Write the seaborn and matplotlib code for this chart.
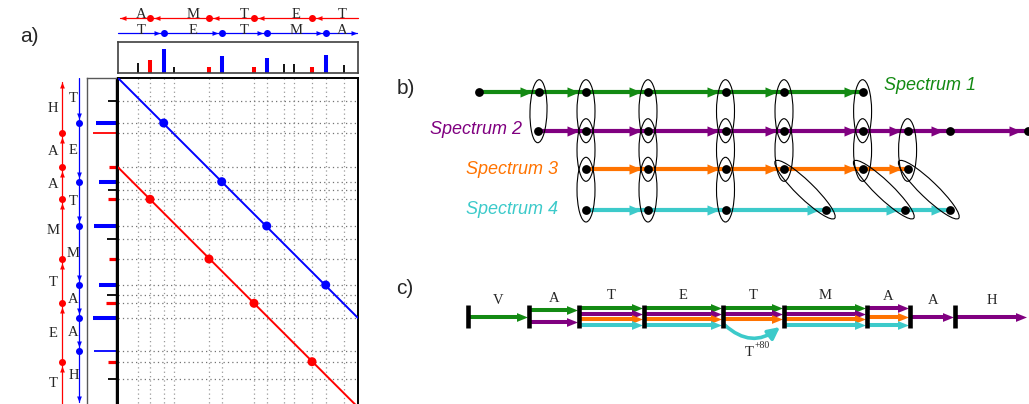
import matplotlib
matplotlib.use('Agg')
import matplotlib.pyplot as plt
from matplotlib.patches import Ellipse
import numpy as np
import pandas as pd
import seaborn as sns

sns.set_theme(style='white')
plt.rcParams['font.family'] = ['Liberation Sans', 'DejaVu Sans']
SERIF = ['Liberation Serif', 'DejaVu Serif']

FIG_W, FIG_H = 1029, 404
RED, BLUE = '#ff0000', '#0000ff'
GREEN, PURPLE, ORANGE, CYAN = '#138a13', '#800080', '#ff7300', '#3ccaca'

# --- a) spectrum on top (mass units, 0..240) ---
top_mz = [19.7, 32, 45.7, 55.7, 91, 103.7, 136, 148.7, 166, 176, 194, 207.7, 226]
top_int = [42, 54, 100, 25, 25, 71, 25, 62, 38, 38, 25, 75, 33]
top_ion = ['o', 'y', 'b', 'o', 'y', 'b', 'y', 'b', 'o', 'o', 'y', 'b', 'o']
top_b_seq = ['T', 'E', 'T', 'M', 'A']
top_y_seq = ['A', 'M', 'T', 'E', 'T']

# --- a) spectrum on the left ---
left_mz = [22.7, 45, 55.3, 89.3, 103.7, 112, 121.3, 148, 161, 181, 207, 217, 225.3, 240, 272.7, 283.7, 301]
left_int = [35, 87, 100, 30, 74, 35, 35, 96, 39, 30, 74, 39, 43, 100, 96, 35, 35]
left_ion = ['o', 'b', 'y', 'y', 'b', 'o', 'y', 'b', 'o', 'y', 'b', 'o', 'y', 'b', 'b', 'y', 'o']
left_faint = [False, False, True, False, False, False, False, False, False, False,
              False, False, False, False, True, False, False]
left_b_seq = ['T', 'E', 'T', 'M', 'A', 'A', 'H']
left_y_seq = ['H', 'A', 'A', 'M', 'T', 'E', 'T']
y_shift = 89.3          # offset of the y-ion diagonal
mass_max = 240

# --- b) peaks of four spectra ---
spectra = ['Spectrum 1', 'Spectrum 2', 'Spectrum 3', 'Spectrum 4']
spec_peaks = [
    [479, 539, 586, 648, 725.5, 784, 862.6],
    [538, 586, 648, 725.5, 784, 862.6, 907.6, 950, 1027.5],
    [586, 648, 725.5, 784, 862.6, 907.6],
    [586, 648, 725.5, 826, 905, 950],
]
# matched peaks between neighbouring spectra: (index in upper, index in lower)
spec_links = [
    [(1, 0), (2, 1), (3, 2), (4, 3), (5, 4), (6, 5)],
    [(1, 0), (2, 1), (3, 2), (4, 3), (5, 4), (6, 5)],
    [(0, 0), (1, 1), (2, 2), (3, 3), (4, 4), (5, 5)],
]

# --- c) consensus sequence ---
c_bounds = [468.4, 528.8, 578.6, 644, 722.7, 784, 866.7, 910.4, 955.3, 1028]
c_letters = ['V', 'A', 'T', 'E', 'T', 'M', 'A', 'A', 'H']
c_cover = [[1], [1, 2], [1, 2, 3, 4], [1, 2, 3, 4], [1, 2, 3, 4], [1, 2, 3, 4],
           [2, 3, 4], [2], [2]]
c_mod = {(4, 4): '+80'}

spec_colors = [GREEN, PURPLE, ORANGE, CYAN]
ion_colors = {'b': BLUE, 'y': RED, 'o': 'black'}
PT = 0.72  # points per pixel


def px_axes(fig, x0, y0, x1, y1):
    return fig.add_axes([x0 / FIG_W, 1 - y1 / FIG_H, (x1 - x0) / FIG_W, (y1 - y0) / FIG_H])


def head(direction, aspect=0.8):
    v = {'r': [(-1, -aspect), (1, 0), (-1, aspect)],
         'l': [(1, -aspect), (-1, 0), (1, aspect)],
         'u': [(-aspect, -1), (0, 1), (aspect, -1)],
         'd': [(-aspect, 1), (0, -1), (aspect, 1)]}[direction]
    return v + [v[0]]


def clean(ax):
    ax.set_xticks([])
    ax.set_yticks([])
    ax.set_xlabel('')
    ax.set_ylabel('')


fig = plt.figure(figsize=(FIG_W / 100, FIG_H / 100), dpi=100)

# ---------------- a) top spectrum ----------------
ax_top = px_axes(fig, 118, 42, 358, 73)
for m, h, ion in zip(top_mz, top_int, top_ion):
    ax_top.vlines(m, 0, h, color=ion_colors[ion], lw=1.3 if ion == 'o' else 2.9)
ax_top.set_xlim(0, mass_max)
ax_top.set_ylim(0, 129)
clean(ax_top)
for s in ax_top.spines.values():
    s.set_color('0.25')
    s.set_linewidth(1.2)

# ---------------- a) left spectrum ----------------
ax_left = px_axes(fig, 87, 78, 116, 412)
for m, h, ion, faint in zip(left_mz, left_int, left_ion, left_faint):
    lw = 1.3 if (ion == 'o' or faint) else (2.9 if ion == 'b' else 2.3)
    ax_left.hlines(m, 0, h, color=ion_colors[ion], lw=lw)
ax_left.set_xlim(126, 0)
ax_left.set_ylim(334, 0)
clean(ax_left)
for s in ax_left.spines.values():
    s.set_color('0.35')
    s.set_linewidth(1.0)
ax_left.spines['right'].set_color('black')

# ---------------- a) matrix ----------------
ax_m = px_axes(fig, 118, 78, 358, 412)
ax_m.vlines(top_mz, 0, 334, colors='0.6', linestyles=(0, (1, 2.5)), lw=0.9, zorder=1)
ax_m.hlines(left_mz, 0, mass_max, colors='0.45', linestyles=(0, (1, 2.5)), lw=0.9, zorder=1)
diag = np.array([0, mass_max])
sns.lineplot(x=diag, y=diag, ax=ax_m, color=BLUE, lw=1.4, zorder=3)
sns.lineplot(x=diag, y=diag + y_shift, ax=ax_m, color=RED, lw=1.4, zorder=3)

top_b = [m for m, i in zip(top_mz, top_ion) if i == 'b']
top_y = [m for m, i in zip(top_mz, top_ion) if i == 'y']
left_b = [m for m, i in zip(left_mz, left_ion) if i == 'b']
left_y = [m for m, i in zip(left_mz, left_ion) if i == 'y']
match = []
for m in top_b:
    for n in left_b:
        if abs(n - m) < 3:
            match.append((m, n, 'b'))
for m in top_y:
    for n in left_y:
        if abs(n - m - y_shift) < 3:
            match.append((m, n, 'y'))
dm = pd.DataFrame(match, columns=['top', 'left', 'ion'])
sns.scatterplot(data=dm, x='top', y='left', hue='ion', palette={'b': BLUE, 'y': RED},
                s=42, linewidth=0, ax=ax_m, legend=False, zorder=4)
ax_m.set_xlim(0, mass_max)
ax_m.set_ylim(334, 0)
clean(ax_m)
for s in ax_m.spines.values():
    s.set_color('black')
    s.set_linewidth(1.4)

# ---------------- a) ladders ----------------
DOT, HEAD = 7, 6          # px
gap = DOT / 2 + 0.5 + HEAD / 2

# top ladder (x in mass units, y in px)
ax_tl = px_axes(fig, 110, 0, 366, 42)
ax_tl.set_xlim(-8, mass_max + 8)
ax_tl.set_ylim(42, 0)
ax_tl.axis('off')
Y_R, Y_B, START = 18, 33, 2
ax_tl.plot([START, mass_max], [Y_R, Y_R], color=RED, lw=0.9)
ax_tl.plot(top_y, [Y_R] * len(top_y), 'o', color=RED, ms=DOT * PT, mew=0)
hx = [m + gap for m in top_y] + [START + HEAD / 2]
ax_tl.plot(hx, [Y_R] * len(hx), ls='none', marker=head('l'), color=RED, ms=HEAD * PT, mew=0)
ax_tl.plot([0, mass_max - 1], [Y_B, Y_B], color=BLUE, lw=0.9)
ax_tl.plot(top_b, [Y_B] * len(top_b), 'o', color=BLUE, ms=DOT * PT, mew=0)
hx = [m - gap for m in top_b] + [mass_max - 1 - HEAD / 2]
ax_tl.plot(hx, [Y_B] * len(hx), ls='none', marker=head('r'), color=BLUE, ms=HEAD * PT, mew=0)
edges = [0] + top_b + [mass_max]
mids = [(a + b) / 2 for a, b in zip(edges[:-1], edges[1:])]
for x, ly, lb in zip(mids, top_y_seq, top_b_seq):
    ax_tl.text(x, Y_R + 0.5, ly, ha='center', va='baseline', fontsize=10.5, family=SERIF)
    ax_tl.text(x, Y_B + 0.5, lb, ha='center', va='baseline', fontsize=10.5, family=SERIF)

# left ladder (y in mass units, x in px)
ax_ll = px_axes(fig, 40, 78, 87, 412)
ax_ll.set_xlim(40, 87)
ax_ll.set_ylim(334, 0)
ax_ll.axis('off')
X_R, X_B, START_L, END_L = 61.7, 79.3, 3.7, 324
ax_ll.plot([X_R, X_R], [START_L, 334], color=RED, lw=0.9)
ax_ll.plot([X_R] * len(left_y), left_y, 'o', color=RED, ms=DOT * PT, mew=0)
hy = [m + gap for m in left_y] + [START_L + HEAD / 2]
ax_ll.plot([X_R] * len(hy), hy, ls='none', marker=head('u'), color=RED, ms=HEAD * PT, mew=0)
ax_ll.plot([X_B, X_B], [0, END_L], color=BLUE, lw=0.9)
ax_ll.plot([X_B] * len(left_b), left_b, 'o', color=BLUE, ms=DOT * PT, mew=0)
hy = [m - gap for m in left_b] + [END_L - HEAD / 2]
ax_ll.plot([X_B] * len(hy), hy, ls='none', marker=head('d'), color=BLUE, ms=HEAD * PT, mew=0)
edges = [START_L] + left_y + [326]
for (a, b), t in zip(zip(edges[:-1], edges[1:]), left_y_seq):
    ax_ll.text(53, (a + b) / 2 + 1, t, ha='center', va='center', fontsize=10.5, family=SERIF)
edges = [0] + left_b + [326]
for (a, b), t in zip(zip(edges[:-1], edges[1:]), left_b_seq):
    ax_ll.text(73.5, (a + b) / 2 - 2, t, ha='center', va='center', fontsize=10.5, family=SERIF)

# ---------------- overlay for b) and c) ----------------
ax = fig.add_axes([0, 0, 1, 1])
ax.set_xlim(0, FIG_W)
ax.set_ylim(FIG_H, 0)
ax.axis('off')
ax.patch.set_visible(False)

ax.text(29, 37, 'a)', ha='center', va='center', fontsize=15)
ax.text(406, 88, 'b)', ha='center', va='center', fontsize=15)
ax.text(405, 289, 'c)', ha='center', va='center', fontsize=15)

# b)
row_y = [91.7, 130.7, 169.3, 210]
label_pos = [(884, 86, 'left'), (522, 129, 'right'), (558, 170, 'right'), (558, 209, 'right')]
BH = 12
for r, (peaks, col) in enumerate(zip(spec_peaks, spec_colors)):
    y = row_y[r]
    ax.plot([peaks[0], peaks[-1]], [y, y], color=col, lw=3.0, solid_capstyle='butt', zorder=2)
    hx = [p - 7 - BH / 2 for p in peaks[1:]]
    ax.plot(hx, [y] * len(hx), ls='none', marker=head('r', 0.85), color=col, ms=BH * PT, mew=0, zorder=2)
    lx, ly, ha = label_pos[r]
    ax.text(lx, ly, spectra[r], color=col, ha=ha, va='center', fontsize=13, style='italic')

for r, links in enumerate(spec_links):
    for i, j in links:
        x1, y1 = spec_peaks[r][i], row_y[r]
        x2, y2 = spec_peaks[r + 1][j], row_y[r + 1]
        d = np.hypot(x2 - x1, y2 - y1)
        ang = np.degrees(np.arctan2(y2 - y1, x2 - x1))
        ax.add_patch(Ellipse(((x1 + x2) / 2, (y1 + y2) / 2), d + 24, 18 if x1 == x2 else 17,
                             angle=ang, fill=False, ec='black', lw=0.8, zorder=4))

dots = pd.DataFrame([(p, row_y[r]) for r, pk in enumerate(spec_peaks) for p in pk], columns=['x', 'y'])
sns.scatterplot(data=dots, x='x', y='y', color='black', s=40, linewidth=0, ax=ax, zorder=5)

# c)
slot_y = {1: [316.5], 2: [310, 322], 3: [308.3, 316.7, 325], 4: [307.7, 313.5, 319.3, 325]}
CH = 11
for k, (cov, letter) in enumerate(zip(c_cover, c_letters)):
    x0, x1 = c_bounds[k], c_bounds[k + 1]
    ys = slot_y[len(cov)]
    for sp, y in zip(cov, ys):
        col = spec_colors[sp - 1]
        if (k, sp) in c_mod:
            ax.annotate('', xy=(x1 - 4, y + 2), xytext=(x0 + 2, y),
                        arrowprops=dict(arrowstyle='-|>,head_length=7,head_width=3.5', mutation_scale=1,
                                        connectionstyle='arc3,rad=0.42', color=col, lw=2.6,
                                        shrinkA=0, shrinkB=0), zorder=2)
            xm = (x0 + x1) / 2
            ax.text(xm - 4, 352, letter, ha='center', va='center', fontsize=10.5, family=SERIF)
            ax.text(xm + 1.5, 346, c_mod[(k, sp)], ha='left', va='center', fontsize=7, family=SERIF)
            continue
        ax.plot([x0 + 1, x1 - CH], [y, y], color=col, lw=2.9, solid_capstyle='butt', zorder=2)
        ax.plot(x1 - 1.5 - CH / 2, y, marker=head('r', 0.8), color=col, ms=CH * PT, mew=0, zorder=2)
    ax.text((x0 + x1) / 2, min(ys[0] - 12, 300), letter, ha='center', va='center',
            fontsize=10.5, family=SERIF)
ax.vlines(c_bounds[:-1], 305, 328, color='black', lw=3.3, zorder=3)

fig.savefig('out.png', dpi=100)
